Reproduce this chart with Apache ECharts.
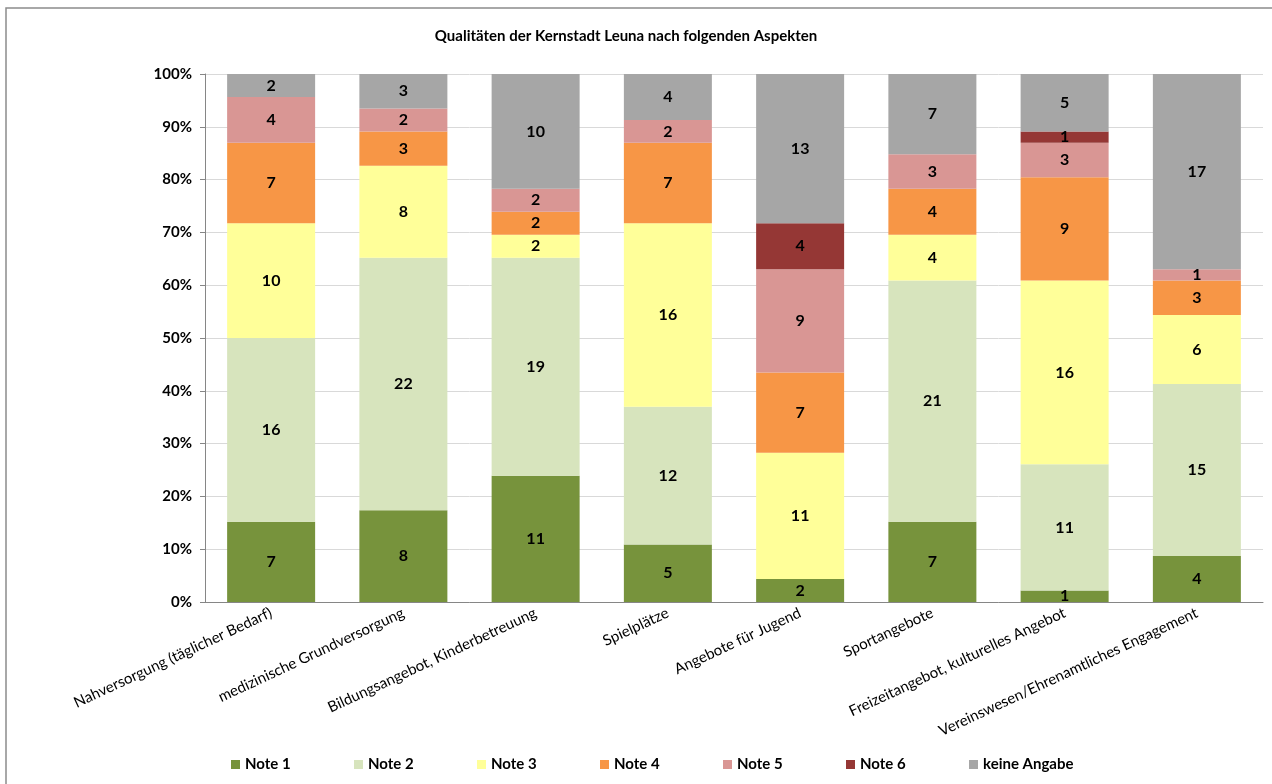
<!DOCTYPE html>
<html>
<head>
<meta charset="utf-8">
<script src="https://cdn.jsdelivr.net/npm/echarts@6/dist/echarts.min.js"></script>
<style>
  html, body { margin: 0; padding: 0; background: #fff; }
  #chart { width: 1272px; height: 784px; }
</style>
</head>
<body>
<div id="chart"></div>
<script>
const categories = [
    'Nahversorgung (täglicher Bedarf)',
    'medizinische Grundversorgung',
    'Bildungsangebot, Kinderbetreuung',
    'Spielplätze',
    'Angebote für Jugend',
    'Sportangebote',
    'Freizeitangebot, kulturelles Angebot',
    'Vereinswesen/Ehrenamtliches Engagement'
]

const note1 = [7, 8, 11, 5, 2, 7, 1, 4]
const note2 = [16, 22, 19, 12, 0, 21, 11, 15]
const note3 = [10, 8, 2, 16, 11, 4, 16, 6]
const note4 = [7, 3, 2, 7, 7, 4, 9, 3]
const note5 = [4, 2, 2, 2, 9, 3, 3, 1]
const note6 = [0, 0, 0, 0, 4, 0, 1, 0]
const keineAngabe = [2, 3, 10, 4, 13, 7, 5, 17]

const seriesNames = ['Note 1', 'Note 2', 'Note 3', 'Note 4', 'Note 5', 'Note 6', 'keine Angabe']
const parts = [note1, note2, note3, note4, note5, note6, keineAngabe]
const colors = ['#77933C', '#D7E4BD', '#FFFF99', '#F79646', '#D99694', '#953735', '#A6A6A6']

// column totals, used to turn counts into 100% stacks
const totals = categories.map((c, i) => parts.reduce((s, p) => s + p[i], 0))

const font = 'Lato, "Open Sans", sans-serif'

const series = seriesNames.map((name, sid) => {
    return {
        name,
        type: 'bar',
        stack: 'total',
        barWidth: 88,
        itemStyle: { color: colors[sid] },
        label: {
            show: true,
            position: 'inside',
            color: '#000',
            fontFamily: font,
            fontWeight: 'bold',
            fontSize: 16,
            formatter: p => p.data.count ? String(p.data.count) : ''
        },
        data: parts[sid].map((count, i) => ({ value: count / totals[i] * 100, count }))
    }
})

// one legend per entry so the spacing matches the original
const legends = seriesNames.map((name, i) => ({
    left: 226 + i * 123,
    top: 752,
    itemWidth: 9,
    itemHeight: 9,
    icon: 'rect',
    textStyle: { fontFamily: font, fontWeight: 'bold', fontSize: 15, color: '#000' },
    data: [name]
}))

let chart = echarts.init(document.getElementById('chart'))
chart.setOption({
    animation: false,
    textStyle: { fontFamily: font },
    graphic: [{
        type: 'rect',
        shape: { x: 6, y: 8, width: 1300, height: 800 },
        style: { fill: 'none', stroke: '#8c8c8c', lineWidth: 1.5 },
        silent: true
    }],
    title: {
        text: 'Qualitäten der Kernstadt Leuna nach folgenden Aspekten',
        left: 621,
        textAlign: 'center',
        top: 24,
        textStyle: { fontFamily: font, fontWeight: 'bold', fontSize: 15, color: '#000' }
    },
    legend: legends,
    grid: { left: 205, right: 9, top: 74, bottom: 182 },
    xAxis: {
        type: 'category',
        data: categories,
        axisLine: { lineStyle: { color: '#868686' } },
        axisTick: { length: 5, lineStyle: { color: '#868686' } },
        axisLabel: {
            rotate: 25,
            interval: 0,
            margin: 10,
            color: '#000',
            fontFamily: font,
            fontSize: 15
        }
    },
    yAxis: {
        type: 'value',
        min: 0,
        max: 100,
        interval: 10,
        axisLine: { show: true, lineStyle: { color: '#868686' } },
        axisTick: { show: true, length: 5, lineStyle: { color: '#868686' } },
        splitLine: { lineStyle: { color: '#d9d9d9' } },
        axisLabel: {
            formatter: '{value}%',
            color: '#000',
            fontFamily: font,
            fontWeight: 'bold',
            fontSize: 15,
            margin: 13
        }
    },
    series
})
</script>
</body>
</html>
